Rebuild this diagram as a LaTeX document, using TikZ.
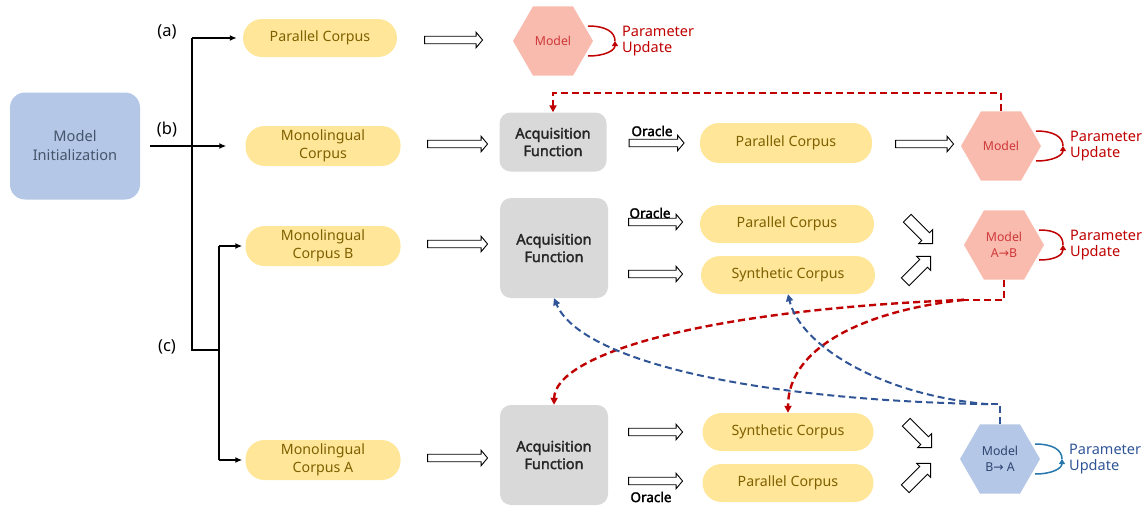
\documentclass[tikz,border=0pt]{standalone}
\usepackage{fontspec}
\setmainfont{Noto Sans}
\newfontfamily\nbold{Noto Sans}[FakeBold=2.2]
\newfontfamily\dejavu{DejaVu Sans}
\usetikzlibrary{shapes.geometric,shapes.arrows,arrows.meta,calc}
\definecolor{yel}{HTML}{FFE699}
\definecolor{yeltext}{HTML}{7F6000}
\definecolor{initblue}{HTML}{B4C7E7}
\definecolor{inittext}{HTML}{44546A}
\definecolor{acqgray}{HTML}{D9D9D9}
\definecolor{salmon}{HTML}{F8BBAE}
\definecolor{redtext}{HTML}{C00000}
\definecolor{hexred}{HTML}{D0383A}
\definecolor{dblue}{HTML}{2F5597}
\definecolor{hexbluetext}{HTML}{2E4470}
\newcommand{\rarr}{{\dejavu →}}
\tikzset{
  corpus/.style={rectangle, rounded corners=19pt, fill=yel, text=yeltext, align=center,
    minimum height=38pt, inner sep=0pt, font=\fontsize{14.2}{18}\selectfont},
  acq/.style={rectangle, rounded corners=11pt, fill=acqgray, text=black!85, align=center,
    inner sep=0pt, font=\nbold\fontsize{14.5}{17.5}\selectfont},
  hexred/.style={regular polygon, regular polygon sides=6, shape border rotate=0,
    minimum size=80pt, inner sep=0pt, fill=salmon, text=hexred, align=center,
    font=\fontsize{12.3}{16}\selectfont},
  hexblue/.style={hexred, fill=initblue, text=hexbluetext},
  blockarrow/.style={single arrow, draw=black, fill=white, line width=0.9pt, inner xsep=0pt,
    inner ysep=3.3pt, single arrow head extend=4pt, single arrow tip angle=100},
  diagarrow/.style={blockarrow, minimum height=36pt, inner ysep=5pt,
    single arrow head extend=4.5pt, single arrow tip angle=90},
  conn/.style={line width=1.5pt, draw=black},
  tipc/.style={-{Latex[length=7pt,width=6pt]}},
  reddash/.style={draw=redtext, line width=2.4pt, dash pattern=on 7pt off 4pt},
  bluedash/.style={draw=dblue, line width=2pt, dash pattern=on 7pt off 4pt},
  dtip/.style={-{Triangle[length=7pt,width=7pt]}},
  lbl/.style={font=\fontsize{16.5}{18}\selectfont, text=black},
  oracle/.style={font=\nbold\fontsize{13.5}{15}\selectfont, text=black},
  upd/.style={font=\fontsize{14.5}{16.5}\selectfont, align=left, anchor=west, inner sep=0pt},
  arcred/.style={draw=redtext, line width=1.5pt},
  arcblue/.style={draw=dblue!80!cyan, line width=1.5pt}
}
\begin{document}
\begin{tikzpicture}[x=1pt,y=-1pt]
\useasboundingbox (0,0) rectangle (1144,506);

% left
\node[rectangle, rounded corners=15pt, fill=initblue, text=inittext, align=center,
  minimum width=130pt, minimum height=107pt, font=\fontsize{14.6}{19}\selectfont] (init) at (75,146) {Model\\Initialization};

\node[corpus, minimum width=154pt] (pa) at (320,38) {Parallel Corpus};
\node[corpus, minimum width=155pt, minimum height=40pt] (mb) at (323,146) {Monolingual\\Corpus};
\node[corpus, minimum width=155pt, minimum height=40pt] (mcB) at (323,246) {Monolingual\\Corpus B};
\node[corpus, minimum width=155pt, minimum height=40pt] (mcA) at (323,460) {Monolingual\\Corpus A};

\node[lbl] (la) at (167,32) {(a)};
\node[lbl] (lb) at (167,130) {(b)};
\node[lbl] (lc) at (167,347) {(c)};

\coordinate (ta) at (192,38);
\coordinate (tc) at (192,350);
\coordinate (jc) at (219,350);
\coordinate (jb) at (219,246);
\coordinate (ja) at (219,460);
\draw[conn] (ta) -- (tc) -- (jc);
\draw[conn, tipc, shorten >=6pt] (ta) -- (pa.west);
\draw[conn, tipc, shorten >=19pt] ([xshift=10pt]init.east) -- (mb.west);
\draw[conn] (jb) -- (ja);
\draw[conn, tipc, shorten >=3pt] (jb) -- (mcB.west);
\draw[conn, tipc, shorten >=3pt] (ja) -- (mcA.west);

% row a
\node[blockarrow, minimum height=58pt] (a1) at (452,40) {};
\node[hexred] (m1) at (553,41) {Model};

% row b
\node[blockarrow, minimum height=60pt] (b1) at (456,144) {};
\node[acq, minimum width=107pt, minimum height=59pt] (acq1) at (553,142) {Acquisition\\Function};
\node[blockarrow, minimum height=55pt] (o1) at (655,143) {};
\node[oracle] (lo1) at (652,131) {Oracle};
\node[corpus, minimum width=172pt, minimum height=40pt] (pc1) at (786,143) {Parallel Corpus};
\node[blockarrow, minimum height=58pt] (r1) at (923,144) {};
\node[hexred] (m2) at (1001,146) {Model};

% row c top
\node[blockarrow, minimum height=60pt] (bB) at (456,244) {};
\node[acq, minimum width=108pt, minimum height=100pt] (acqB) at (554,248) {Acquisition\\Function};
\node[blockarrow, minimum height=54pt] (oB) at (654,222) {};
\node[oracle] (loB) at (650,213) {Oracle};
\node[blockarrow, minimum height=54pt] (sB) at (654,274) {};
\node[corpus, minimum width=174pt] (pcB) at (787,224) {Parallel Corpus};
\node[corpus, minimum width=174pt] (scB) at (788,275) {Synthetic Corpus};
\node[diagarrow, rotate=-45] (dB1) at (918,229) {};
\node[diagarrow, rotate=45] (dB2) at (916,271) {};
\node[hexred] (mab) at (1004,245) {Model\\A\rarr B};

% row c bottom
\node[blockarrow, minimum height=60pt] (bA) at (456,458) {};
\node[acq, minimum width=108pt, minimum height=100pt] (acqA) at (554,455) {Acquisition\\Function};
\node[blockarrow, minimum height=54pt] (sA) at (654,432) {};
\node[blockarrow, minimum height=54pt] (oA) at (654,481) {};
\node[oracle] (loA) at (651,497) {Oracle};
\node[corpus, minimum width=171pt] (scA) at (788,432) {Synthetic Corpus};
\node[corpus, minimum width=171pt] (pcA) at (788,483) {Parallel Corpus};
\node[diagarrow, rotate=-45] (dA1) at (917,433) {};
\node[diagarrow, rotate=45] (dA2) at (916,478) {};
\node[hexblue] (mba) at (1000,459) {Model\\B\rarr{} A};

% parameter update arcs
\foreach \h/\st/\col/\dx in {m1/arcred/redtext/0, m2/arcred/redtext/0, mab/arcred/redtext/-3, mba/arcblue/dblue/0}{
  \coordinate (\h-p1) at ($(\h.center)+(35,-15)$);
  \coordinate (\h-p2) at ($(\h.center)+(35,15)$);
  \coordinate (\h-tip) at ($(\h.center)+(62+\dx,0)$);
  \draw[\st] (\h-p1) .. controls ($(\h-p1)+(18,0)$) and ($(\h-tip)+(0,-9)$) .. (\h-tip);
  \draw[\st, -{Triangle[length=5pt,width=6pt]}] (\h-p2) .. controls ($(\h-p2)+(18,0)$) and ($(\h-tip)+(0,9)$) .. (\h-tip);
  \node[upd, text=\col] (\h-u) at ($(\h-tip)+(7,0)$) {Parameter\\Update};
}

% red feedback (b)
\draw[reddash, dtip] (m2.north) -- ++(0,-18) -| (acq1.north);

% red feedback (c)
\coordinate (rs) at ($(mab.south)+(-40,20)$);
\draw[reddash] (mab.south) -- ++(0,20) -- (rs);
\draw[reddash, dtip] (rs) .. controls (700,310) and (555,355) .. (acqA.north);
\draw[reddash, dtip] (rs) .. controls (870,310) and (788,345) .. (scA.north);

% blue feedback (c)
\coordinate (bs) at ($(mba.north)+(-12,-20)$);
\draw[bluedash] (mba.north) -- ++(0,-20) -- (bs);
\draw[bluedash, dtip] (bs) .. controls (750,400) and (580,360) .. (acqB.south);
\draw[bluedash, dtip] (bs) .. controls (880,395) and (800,345) .. (scB.south);
\end{tikzpicture}
\end{document}
